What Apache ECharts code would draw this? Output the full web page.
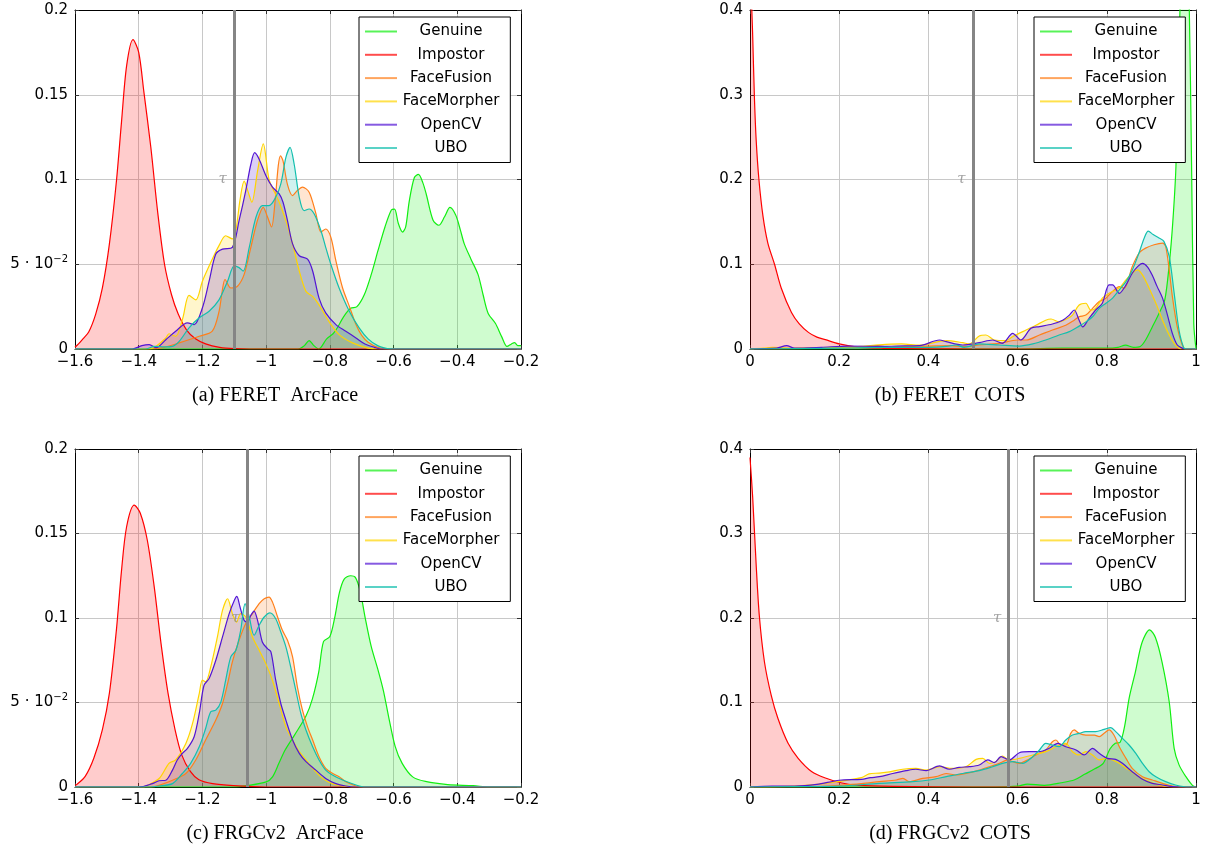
<!DOCTYPE html>
<html>
<head>
<meta charset="utf-8">
<title>Score distributions</title>
<script src="https://cdn.jsdelivr.net/npm/echarts@6/dist/echarts.min.js"></script>
<style>
  html, body { margin: 0; padding: 0; background: #fff; }
  #chart { width: 1219px; height: 847px; }
</style>
</head>
<body>
<div id="chart"></div>
<script>
// legend names and colours, one per distribution
var seriesNames = ['Genuine', 'Impostor', 'FaceFusion', 'FaceMorpher', 'OpenCV', 'UBO']
var seriesColors = ['#11ee11', '#ff0000', '#ff7f1a', '#ffd400', '#5214d4', '#12bfae']
var panelCaptions = ['(a) FERET  ArcFace', '(b) FERET  COTS', '(c) FRGCv2  ArcFace', '(d) FRGCv2  COTS']
var tauValues = [-1.1, 0.5, -1.06, 0.58]

// (a) FERET ArcFace
var feretArcGenuine = [[-1.6, 0], [-0.9, 0], [-0.88, 0.002], [-0.865, 0.005], [-0.85, 0.002], [-0.835, 0], [-0.81, 0.006], [-0.79, 0.009], [-0.775, 0.013], [-0.757, 0.019], [-0.735, 0.024], [-0.715, 0.025], [-0.692, 0.032], [-0.67, 0.044], [-0.649, 0.058], [-0.627, 0.072], [-0.607, 0.082], [-0.597, 0.0825], [-0.585, 0.074], [-0.572, 0.069], [-0.562, 0.072], [-0.551, 0.087], [-0.535, 0.101], [-0.522, 0.103], [-0.508, 0.098], [-0.497, 0.091], [-0.476, 0.076], [-0.458, 0.073], [-0.44, 0.078], [-0.423, 0.0835], [-0.405, 0.079], [-0.39, 0.07], [-0.378, 0.062], [-0.357, 0.053], [-0.335, 0.044], [-0.319, 0.032], [-0.303, 0.021], [-0.28, 0.015], [-0.26, 0.007], [-0.244, 0.0015], [-0.23, 0.003], [-0.22, 0.0038], [-0.21, 0.002], [-0.2, 0.002]]
var feretArcImpostor = [[-1.6, 0.001], [-1.589, 0.003], [-1.575, 0.006], [-1.557, 0.01], [-1.535, 0.0206], [-1.514, 0.036], [-1.492, 0.062], [-1.47, 0.099], [-1.454, 0.134], [-1.438, 0.167], [-1.418, 0.1825], [-1.4, 0.175], [-1.384, 0.152], [-1.362, 0.119], [-1.34, 0.08], [-1.319, 0.05], [-1.297, 0.032], [-1.276, 0.0206], [-1.249, 0.011], [-1.222, 0.006], [-1.19, 0.003], [-1.146, 0.001], [-1.1, 0.0003], [-1.0, 0], [-0.2, 0]]
var feretArcFusion = [[-1.6, 0], [-1.36, 0], [-1.32, 0.001], [-1.273, 0.0036], [-1.21, 0.0075], [-1.169, 0.0105], [-1.148, 0.022], [-1.138, 0.034], [-1.129, 0.041], [-1.111, 0.036], [-1.09, 0.037], [-1.069, 0.044], [-1.048, 0.06], [-1.027, 0.076], [-1.009, 0.0836], [-0.996, 0.078], [-0.983, 0.072], [-0.972, 0.087], [-0.962, 0.108], [-0.955, 0.114], [-0.947, 0.111], [-0.933, 0.097], [-0.917, 0.0905], [-0.902, 0.0935], [-0.886, 0.0955], [-0.865, 0.0925], [-0.844, 0.08], [-0.828, 0.069], [-0.813, 0.0708], [-0.797, 0.066], [-0.781, 0.052], [-0.76, 0.036], [-0.739, 0.0253], [-0.718, 0.0144], [-0.7, 0.008], [-0.68, 0.004], [-0.65, 0.001], [-0.62, 0], [-0.2, 0]]
var feretArcMorpher = [[-1.6, 0], [-1.37, 0], [-1.35, 0.001], [-1.315, 0.0065], [-1.305, 0.009], [-1.284, 0.0075], [-1.262, 0.018], [-1.242, 0.0316], [-1.221, 0.029], [-1.2, 0.04], [-1.174, 0.051], [-1.148, 0.061], [-1.127, 0.0668], [-1.106, 0.065], [-1.095, 0.07], [-1.082, 0.088], [-1.069, 0.099], [-1.057, 0.093], [-1.045, 0.0866], [-1.027, 0.105], [-1.009, 0.121], [-0.991, 0.1], [-0.975, 0.093], [-0.959, 0.0866], [-0.938, 0.0757], [-0.917, 0.062], [-0.896, 0.046], [-0.875, 0.034], [-0.854, 0.031], [-0.834, 0.026], [-0.802, 0.016], [-0.771, 0.0085], [-0.729, 0.0036], [-0.68, 0.0005], [-0.65, 0], [-0.2, 0]]
var feretArcOpenCV = [[-1.6, 0], [-1.42, 0], [-1.39, 0.002], [-1.367, 0.0026], [-1.345, 0.0008], [-1.315, 0.0055], [-1.284, 0.0105], [-1.247, 0.0154], [-1.226, 0.0144], [-1.2, 0.0243], [-1.179, 0.04], [-1.158, 0.056], [-1.137, 0.0589], [-1.106, 0.06], [-1.085, 0.0757], [-1.064, 0.0935], [-1.048, 0.109], [-1.036, 0.1158], [-1.022, 0.112], [-1.001, 0.1024], [-0.98, 0.0955], [-0.959, 0.0915], [-0.947, 0.0866], [-0.933, 0.0757], [-0.917, 0.062], [-0.896, 0.055], [-0.87, 0.053], [-0.854, 0.046], [-0.834, 0.03], [-0.813, 0.0213], [-0.781, 0.0144], [-0.75, 0.0105], [-0.718, 0.0065], [-0.69, 0.003], [-0.66, 0.001], [-0.64, 0], [-0.2, 0]]
var feretArcUBO = [[-1.6, 0], [-1.38, 0], [-1.35, 0.0015], [-1.32, 0.0012], [-1.295, 0.0015], [-1.273, 0.0045], [-1.242, 0.0125], [-1.21, 0.0184], [-1.179, 0.0223], [-1.148, 0.029], [-1.121, 0.04], [-1.1, 0.049], [-1.085, 0.048], [-1.072, 0.046], [-1.053, 0.06], [-1.032, 0.0777], [-1.012, 0.0846], [-0.991, 0.0846], [-0.97, 0.0895], [-0.954, 0.0974], [-0.938, 0.113], [-0.925, 0.119], [-0.912, 0.109], [-0.896, 0.0895], [-0.881, 0.0816], [-0.865, 0.0826], [-0.849, 0.0796], [-0.828, 0.0698], [-0.813, 0.06], [-0.797, 0.05], [-0.771, 0.036], [-0.739, 0.0223], [-0.708, 0.0125], [-0.68, 0.006], [-0.65, 0.002], [-0.62, 0.0003], [-0.6, 0], [-0.2, 0]]

// (b) FERET COTS
var feretCotsGenuine = [[0, 0], [0.6, 0], [0.7, 0.001], [0.8, 0.001], [0.825, 0.002], [0.842, 0.0045], [0.86, 0.002], [0.875, 0.003], [0.887, 0.0106], [0.902, 0.026], [0.917, 0.042], [0.93, 0.058], [0.94, 0.1], [0.948, 0.15], [0.955, 0.215], [0.964, 0.4], [0.972, 0.5], [0.98, 0.48], [0.985, 0.4], [0.99, 0.22], [0.995, 0.03], [1, 0]]
var feretCotsImpostor = [[0, 0.55], [0.003, 0.42], [0.006, 0.37], [0.01, 0.295], [0.014, 0.245], [0.02, 0.2], [0.029, 0.157], [0.04, 0.125], [0.055, 0.1], [0.07, 0.072], [0.093, 0.043], [0.11, 0.03], [0.131, 0.0196], [0.15, 0.014], [0.169, 0.011], [0.2, 0.006], [0.244, 0.002], [0.3, 0.0008], [0.4, 0.0002], [0.5, 0], [1, 0]]
var feretCotsFusion = [[0, 0], [0.1, 0.0005], [0.15, 0.001], [0.25, 0.002], [0.286, 0.004], [0.31, 0.002], [0.35, 0.003], [0.402, 0.0035], [0.45, 0.004], [0.48, 0.003], [0.514, 0.0047], [0.559, 0.0067], [0.6, 0.0106], [0.619, 0.0106], [0.649, 0.0165], [0.678, 0.0224], [0.708, 0.028], [0.727, 0.034], [0.738, 0.038], [0.753, 0.04], [0.768, 0.048], [0.783, 0.056], [0.798, 0.06], [0.813, 0.068], [0.828, 0.0736], [0.839, 0.0717], [0.857, 0.097], [0.872, 0.113], [0.887, 0.119], [0.906, 0.123], [0.925, 0.125], [0.932, 0.121], [0.94, 0.093], [0.947, 0.062], [0.958, 0.026], [0.969, 0.005], [0.977, 0], [1, 0]]
var feretCotsMorpher = [[0, 0], [0.03, 0.001], [0.05, 0.002], [0.1, 0.001], [0.2, 0.002], [0.25, 0.003], [0.29, 0.005], [0.34, 0.006], [0.38, 0.0045], [0.44, 0.01], [0.477, 0.0075], [0.492, 0.006], [0.514, 0.0154], [0.529, 0.0165], [0.548, 0.0106], [0.574, 0.01], [0.589, 0.0146], [0.619, 0.0224], [0.641, 0.028], [0.663, 0.034], [0.675, 0.0354], [0.693, 0.032], [0.708, 0.035], [0.723, 0.04], [0.738, 0.052], [0.753, 0.054], [0.764, 0.046], [0.775, 0.048], [0.79, 0.06], [0.805, 0.0657], [0.82, 0.0697], [0.831, 0.0736], [0.843, 0.0815], [0.857, 0.0894], [0.869, 0.0933], [0.88, 0.0874], [0.895, 0.0717], [0.91, 0.054], [0.925, 0.034], [0.94, 0.0165], [0.951, 0.0067], [0.962, 0.001], [0.97, 0], [1, 0]]
var feretCotsOpenCV = [[0, 0], [0.06, 0.001], [0.082, 0.004], [0.1, 0.001], [0.16, 0.002], [0.22, 0.0035], [0.3, 0.003], [0.328, 0.0035], [0.38, 0.004], [0.425, 0.0106], [0.44, 0.0087], [0.477, 0.0047], [0.514, 0.0075], [0.544, 0.0106], [0.566, 0.0067], [0.589, 0.0185], [0.607, 0.0106], [0.63, 0.0244], [0.649, 0.0264], [0.678, 0.0295], [0.701, 0.034], [0.716, 0.04], [0.727, 0.046], [0.738, 0.034], [0.746, 0.026], [0.76, 0.036], [0.775, 0.046], [0.79, 0.054], [0.805, 0.0756], [0.813, 0.0756], [0.828, 0.0657], [0.843, 0.0756], [0.857, 0.0894], [0.869, 0.0972], [0.88, 0.101], [0.891, 0.097], [0.902, 0.087], [0.913, 0.0736], [0.925, 0.06], [0.936, 0.04], [0.947, 0.0185], [0.958, 0.0047], [0.969, 0.001], [0.975, 0], [1, 0]]
var feretCotsUBO = [[0, 0], [0.2, 0.001], [0.3, 0.002], [0.4, 0.002], [0.44, 0.003], [0.462, 0.0047], [0.48, 0.002], [0.514, 0.006], [0.559, 0.0047], [0.604, 0.0035], [0.634, 0.006], [0.663, 0.0106], [0.693, 0.0165], [0.716, 0.0205], [0.738, 0.027], [0.753, 0.032], [0.768, 0.038], [0.783, 0.048], [0.798, 0.054], [0.813, 0.06], [0.828, 0.0697], [0.843, 0.0795], [0.857, 0.093], [0.872, 0.113], [0.884, 0.131], [0.893, 0.139], [0.904, 0.135], [0.917, 0.131], [0.928, 0.127], [0.94, 0.109], [0.951, 0.066], [0.962, 0.022], [0.973, 0.001], [0.98, 0], [1, 0]]

// (c) FRGCv2 ArcFace
var frgcArcGenuine = [[-1.6, 0], [-1.1, 0], [-1.06, 0.0008], [-1.0, 0.003], [-0.98, 0.006], [-0.96, 0.014], [-0.94, 0.022], [-0.91, 0.031], [-0.875, 0.042], [-0.855, 0.052], [-0.835, 0.068], [-0.82, 0.086], [-0.8, 0.089], [-0.785, 0.1], [-0.77, 0.115], [-0.755, 0.123], [-0.735, 0.125], [-0.72, 0.124], [-0.705, 0.116], [-0.69, 0.101], [-0.67, 0.083], [-0.65, 0.07], [-0.632, 0.057], [-0.616, 0.042], [-0.595, 0.024], [-0.573, 0.014], [-0.54, 0.006], [-0.5, 0.0033], [-0.43, 0.0014], [-0.35, 0.0008], [-0.3, 0], [-0.2, 0]]
var frgcArcImpostor = [[-1.6, 0.001], [-1.595, 0.0014], [-1.568, 0.0063], [-1.541, 0.017], [-1.514, 0.034], [-1.492, 0.0555], [-1.47, 0.093], [-1.454, 0.128], [-1.438, 0.154], [-1.414, 0.1668], [-1.395, 0.162], [-1.373, 0.146], [-1.351, 0.118], [-1.33, 0.085], [-1.308, 0.0555], [-1.286, 0.034], [-1.265, 0.019], [-1.238, 0.0092], [-1.211, 0.0043], [-1.168, 0.002], [-1.103, 0.0008], [-1.0, 0], [-0.2, 0]]
var frgcArcFusion = [[-1.6, 0], [-1.36, 0], [-1.336, 0.001], [-1.294, 0.004], [-1.252, 0.008], [-1.221, 0.016], [-1.19, 0.0278], [-1.158, 0.0396], [-1.137, 0.0494], [-1.121, 0.0612], [-1.106, 0.074], [-1.085, 0.0868], [-1.064, 0.0967], [-1.043, 0.1026], [-1.022, 0.1085], [-1.006, 0.1114], [-0.991, 0.1124], [-0.98, 0.1094], [-0.964, 0.1006], [-0.949, 0.0927], [-0.933, 0.0868], [-0.917, 0.077], [-0.902, 0.0593], [-0.886, 0.0455], [-0.87, 0.0356], [-0.854, 0.0278], [-0.834, 0.0179], [-0.813, 0.011], [-0.792, 0.0081], [-0.771, 0.0061], [-0.75, 0.0031], [-0.718, 0.0006], [-0.7, 0], [-0.2, 0]]
var frgcArcMorpher = [[-1.6, 0], [-1.39, 0], [-1.378, 0.0005], [-1.336, 0.005], [-1.305, 0.014], [-1.284, 0.016], [-1.252, 0.0258], [-1.231, 0.0376], [-1.21, 0.0553], [-1.2, 0.0632], [-1.19, 0.0622], [-1.174, 0.071], [-1.153, 0.0888], [-1.137, 0.1045], [-1.121, 0.1114], [-1.106, 0.1026], [-1.093, 0.0976], [-1.08, 0.1026], [-1.064, 0.1006], [-1.043, 0.0888], [-1.022, 0.081], [-1.001, 0.073], [-0.98, 0.063], [-0.959, 0.0494], [-0.938, 0.0356], [-0.917, 0.0278], [-0.896, 0.0209], [-0.875, 0.016], [-0.854, 0.011], [-0.823, 0.0051], [-0.792, 0.002], [-0.75, 0.0005], [-0.72, 0], [-0.2, 0]]
var frgcArcOpenCV = [[-1.6, 0], [-1.4, 0], [-1.357, 0.002], [-1.336, 0.0037], [-1.315, 0.004], [-1.294, 0.01], [-1.279, 0.016], [-1.263, 0.0199], [-1.247, 0.0228], [-1.226, 0.0297], [-1.21, 0.0435], [-1.195, 0.0602], [-1.179, 0.0642], [-1.158, 0.075], [-1.137, 0.0888], [-1.116, 0.1026], [-1.1, 0.1104], [-1.092, 0.1128], [-1.082, 0.1065], [-1.069, 0.0986], [-1.059, 0.0976], [-1.048, 0.1016], [-1.038, 0.1041], [-1.027, 0.0986], [-1.012, 0.0858], [-0.996, 0.0819], [-0.985, 0.08], [-0.97, 0.0632], [-0.954, 0.0494], [-0.938, 0.0396], [-0.917, 0.0278], [-0.896, 0.0199], [-0.875, 0.015], [-0.844, 0.01], [-0.813, 0.0051], [-0.781, 0.002], [-0.75, 0.0006], [-0.72, 0], [-0.2, 0]]
var frgcArcUBO = [[-1.6, 0], [-1.37, 0], [-1.336, 0.0006], [-1.294, 0.002], [-1.263, 0.008], [-1.237, 0.014], [-1.21, 0.0238], [-1.19, 0.0346], [-1.174, 0.0445], [-1.158, 0.0455], [-1.142, 0.0504], [-1.127, 0.0632], [-1.111, 0.077], [-1.095, 0.0809], [-1.08, 0.0927], [-1.066, 0.1085], [-1.053, 0.1006], [-1.038, 0.0898], [-1.022, 0.0957], [-1.006, 0.1006], [-0.988, 0.103], [-0.97, 0.0996], [-0.954, 0.0917], [-0.938, 0.0829], [-0.923, 0.0711], [-0.907, 0.0573], [-0.891, 0.0435], [-0.875, 0.0337], [-0.854, 0.0238], [-0.834, 0.016], [-0.813, 0.01], [-0.792, 0.0071], [-0.76, 0.0041], [-0.718, 0.0012], [-0.69, 0], [-0.2, 0]]

// (d) FRGCv2 COTS
var frgcCotsGenuine = [[0, 0], [0.55, 0], [0.6, 0.001], [0.622, 0.0035], [0.66, 0.002], [0.698, 0.005], [0.728, 0.0086], [0.75, 0.015], [0.773, 0.0215], [0.792, 0.028], [0.807, 0.045], [0.819, 0.0517], [0.83, 0.053], [0.84, 0.072], [0.85, 0.105], [0.864, 0.136], [0.879, 0.171], [0.896, 0.186], [0.909, 0.177], [0.924, 0.1476], [0.94, 0.1006], [0.951, 0.0458], [0.962, 0.0262], [0.977, 0.0125], [0.992, 0.002], [1, 0]]
var frgcCotsImpostor = [[0, 0.39], [0.006, 0.343], [0.0136, 0.265], [0.021, 0.202], [0.0325, 0.1476], [0.0476, 0.1084], [0.0627, 0.081], [0.0854, 0.0517], [0.108, 0.034], [0.138, 0.0184], [0.169, 0.0106], [0.206, 0.0047], [0.244, 0.002], [0.32, 0.0008], [0.5, 0], [1, 0]]
var frgcCotsFusion = [[0, 0], [0.15, 0.0005], [0.2, 0.002], [0.25, 0.004], [0.29, 0.0063], [0.328, 0.0083], [0.343, 0.0103], [0.357, 0.0063], [0.387, 0.0103], [0.417, 0.0122], [0.44, 0.016], [0.462, 0.0142], [0.484, 0.016], [0.514, 0.02], [0.537, 0.024], [0.559, 0.028], [0.578, 0.032], [0.589, 0.03], [0.604, 0.028], [0.622, 0.032], [0.641, 0.0379], [0.663, 0.0438], [0.678, 0.0536], [0.686, 0.0556], [0.697, 0.0497], [0.708, 0.0497], [0.719, 0.0635], [0.727, 0.0675], [0.738, 0.0635], [0.753, 0.0615], [0.772, 0.0615], [0.783, 0.0596], [0.794, 0.0635], [0.805, 0.0675], [0.816, 0.0615], [0.828, 0.0477], [0.843, 0.0339], [0.857, 0.0221], [0.88, 0.0122], [0.902, 0.0083], [0.925, 0.0043], [0.947, 0.0012], [0.977, 0], [1, 0]]
var frgcCotsMorpher = [[0, 0], [0.1, 0.001], [0.15, 0.003], [0.2, 0.0067], [0.25, 0.011], [0.267, 0.0155], [0.29, 0.0165], [0.313, 0.018], [0.342, 0.021], [0.372, 0.022], [0.395, 0.02], [0.425, 0.024], [0.454, 0.022], [0.484, 0.024], [0.507, 0.0327], [0.522, 0.0339], [0.537, 0.028], [0.551, 0.03], [0.566, 0.0367], [0.581, 0.032], [0.604, 0.0339], [0.634, 0.0379], [0.663, 0.0418], [0.686, 0.0477], [0.708, 0.0517], [0.723, 0.0418], [0.738, 0.0379], [0.753, 0.0418], [0.768, 0.0379], [0.783, 0.032], [0.798, 0.0339], [0.813, 0.032], [0.828, 0.028], [0.85, 0.02], [0.872, 0.0122], [0.895, 0.0063], [0.917, 0.0024], [0.94, 0.0004], [0.96, 0], [1, 0]]
var frgcCotsOpenCV = [[0, 0], [0.05, 0.001], [0.1, 0.001], [0.15, 0.003], [0.2, 0.008], [0.25, 0.009], [0.27, 0.011], [0.29, 0.0122], [0.32, 0.016], [0.35, 0.0193], [0.372, 0.021], [0.395, 0.0193], [0.425, 0.0249], [0.447, 0.021], [0.469, 0.0233], [0.492, 0.024], [0.514, 0.026], [0.533, 0.032], [0.548, 0.0288], [0.563, 0.0359], [0.581, 0.032], [0.604, 0.0406], [0.626, 0.0418], [0.648, 0.0418], [0.671, 0.0458], [0.69, 0.0517], [0.708, 0.0477], [0.731, 0.0438], [0.749, 0.0379], [0.768, 0.0458], [0.783, 0.0398], [0.801, 0.0339], [0.82, 0.0327], [0.835, 0.028], [0.857, 0.0181], [0.88, 0.0091], [0.902, 0.0043], [0.925, 0.0024], [0.947, 0.0004], [0.97, 0], [1, 0]]
var frgcCotsUBO = [[0, 0], [0.1, 0.0005], [0.2, 0.001], [0.29, 0.0043], [0.365, 0.0063], [0.402, 0.0083], [0.44, 0.0122], [0.477, 0.016], [0.514, 0.0193], [0.544, 0.024], [0.566, 0.028], [0.589, 0.03], [0.611, 0.028], [0.634, 0.0359], [0.649, 0.0438], [0.663, 0.0517], [0.678, 0.0497], [0.693, 0.0477], [0.708, 0.0556], [0.723, 0.0615], [0.738, 0.0635], [0.753, 0.0655], [0.775, 0.0655], [0.794, 0.0682], [0.809, 0.0702], [0.82, 0.0655], [0.835, 0.0576], [0.85, 0.0497], [0.865, 0.0398], [0.88, 0.028], [0.895, 0.0181], [0.91, 0.0122], [0.932, 0.0063], [0.954, 0.0024], [0.984, 0], [1, 0]]

var panelSeries = [
  [feretArcGenuine, feretArcImpostor, feretArcFusion, feretArcMorpher, feretArcOpenCV, feretArcUBO],
  [feretCotsGenuine, feretCotsImpostor, feretCotsFusion, feretCotsMorpher, feretCotsOpenCV, feretCotsUBO],
  [frgcArcGenuine, frgcArcImpostor, frgcArcFusion, frgcArcMorpher, frgcArcOpenCV, frgcArcUBO],
  [frgcCotsGenuine, frgcCotsImpostor, frgcCotsFusion, frgcCotsMorpher, frgcCotsOpenCV, frgcCotsUBO]
]

// panel layout: ArcFace panels on the left, COTS on the right
var panels = [
  {left: 75, top: 10, height: 339, xMin: -1.6, xMax: -0.2, yMax: 0.2, yStep: 0.05, capTop: 386},
  {left: 750, top: 10, height: 339, xMin: 0, xMax: 1, yMax: 0.4, yStep: 0.1, capTop: 386},
  {left: 75, top: 449, height: 338, xMin: -1.6, xMax: -0.2, yMax: 0.2, yStep: 0.05, capTop: 824},
  {left: 750, top: 449, height: 338, xMin: 0, xMax: 1, yMax: 0.4, yStep: 0.1, capTop: 824}
]
var plotWidth = 446
var sans = 'DejaVu Sans'

function xLabel (v) {
  var s = String(Math.abs(+v.toFixed(2)))
  return v < -1e-9 ? '\u2212' + s : s
}
function yLabel (v) {
  if (Math.abs(v - 0.05) < 1e-9) return '{b|5 \u00b7 10}{s|\u22122}'
  return String(+v.toFixed(2))
}

var grids = []
var xAxes = []
var yAxes = []
var legends = []
var titles = []
var series = []

panels.forEach(function (p, k) {
  grids.push({left: p.left, top: p.top, width: plotWidth, height: p.height, show: false})
  titles.push({
    text: panelCaptions[k],
    left: p.left + 200,
    top: p.capTop,
    textAlign: 'center',
    padding: 0,
    textStyle: {fontFamily: 'Liberation Serif', fontSize: 20, fontWeight: 'normal', color: '#000'}
  })
  // legend rows: thin line sample with the name centred beside it
  legends.push({
    data: seriesNames,
    orient: 'vertical',
    left: p.left + 284,
    top: p.top + 7,
    icon: 'rect',
    itemWidth: 32,
    itemHeight: 2,
    itemGap: 8.3,
    padding: [7, 11, 7, 6],
    backgroundColor: '#fff',
    borderColor: '#000',
    borderWidth: 1,
    selectedMode: false,
    itemStyle: {opacity: 0.7},
    formatter: function (name) { return '{t|' + name + '}' },
    textStyle: {
      fontFamily: sans,
      fontSize: 15,
      color: '#000',
      rich: {t: {width: 98, align: 'center', fontFamily: sans, fontSize: 15}}
    }
  })
  // bottom / left axes with labels and grid lines
  xAxes.push({
    gridIndex: k,
    type: 'value',
    min: p.xMin,
    max: p.xMax,
    interval: 0.2,
    axisLine: {lineStyle: {color: '#000', width: 1}},
    axisTick: {inside: true, length: 4, lineStyle: {color: '#333'}},
    axisLabel: {formatter: xLabel, fontFamily: sans, fontSize: 15, color: '#000', margin: 6},
    splitLine: {show: true, lineStyle: {color: '#c8c8c8', width: 1}}
  })
  yAxes.push({
    gridIndex: k,
    type: 'value',
    min: 0,
    max: p.yMax,
    interval: p.yStep,
    axisLine: {show: true, lineStyle: {color: '#000', width: 1}},
    axisTick: {show: true, inside: true, length: 4, lineStyle: {color: '#333'}},
    axisLabel: {
      formatter: yLabel,
      fontFamily: sans,
      fontSize: 15,
      color: '#000',
      margin: 7,
      rich: {
        b: {fontFamily: sans, fontSize: 15, lineHeight: 20, color: '#000'},
        s: {fontFamily: sans, fontSize: 10, lineHeight: 10, verticalAlign: 'top', color: '#000'}
      }
    },
    splitLine: {show: true, lineStyle: {color: '#c8c8c8', width: 1}}
  })
})

// top / right axes: box border and mirrored ticks
panels.forEach(function (p, k) {
  xAxes.push({
    gridIndex: k, type: 'value', position: 'top', min: p.xMin, max: p.xMax, interval: 0.2,
    axisLine: {show: true, onZero: false, lineStyle: {color: '#000', width: 1}},
    axisTick: {inside: true, length: 4, lineStyle: {color: '#333'}},
    axisLabel: {show: false}, splitLine: {show: false}
  })
  yAxes.push({
    gridIndex: k, type: 'value', position: 'right', min: 0, max: p.yMax, interval: p.yStep,
    axisLine: {show: true, onZero: false, lineStyle: {color: '#000', width: 1}},
    axisTick: {show: true, inside: true, length: 4, lineStyle: {color: '#333'}},
    axisLabel: {show: false}, splitLine: {show: false}
  })
})

panelSeries.forEach(function (list, k) {
  list.forEach(function (data, i) {
    series.push({
      name: seriesNames[i],
      type: 'line',
      xAxisIndex: k,
      yAxisIndex: k,
      data: data,
      smooth: 0.3,
      symbol: 'none',
      clip: true,
      silent: true,
      lineStyle: {color: seriesColors[i], width: 1.2},
      itemStyle: {color: seriesColors[i]},
      areaStyle: {color: seriesColors[i], opacity: 0.2}
    })
  })
  // threshold line and its label
  series.push({
    name: 'tau',
    type: 'scatter',
    xAxisIndex: k,
    yAxisIndex: k,
    data: [[tauValues[k], panels[k].yMax / 2]],
    symbolSize: 1,
    silent: true,
    z: 5,
    itemStyle: {color: 'rgba(0,0,0,0)'},
    label: {
      show: true,
      position: 'left',
      distance: 7,
      formatter: '\u03c4',
      color: '#8c8c8c',
      fontSize: 15,
      fontStyle: 'italic',
      fontFamily: 'DejaVu Serif'
    },
    markLine: {
      silent: true,
      symbol: ['none', 'none'],
      label: {show: false},
      lineStyle: {color: '#858585', width: 3, type: 'solid', opacity: 1},
      data: [{xAxis: tauValues[k]}]
    }
  })
})

var option = {
  animation: false,
  backgroundColor: '#fff',
  title: titles,
  legend: legends,
  grid: grids,
  xAxis: xAxes,
  yAxis: yAxes,
  series: series
}

var chart = echarts.init(document.getElementById('chart'))
chart.setOption(option, true)
window.onresize = chart.resize
</script>
</body>
</html>
